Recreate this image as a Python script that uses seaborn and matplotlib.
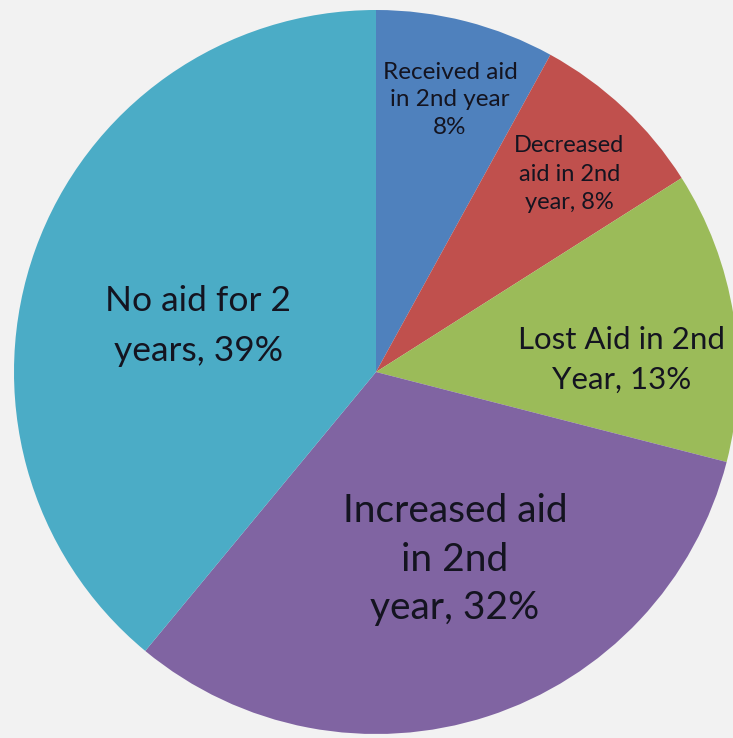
import numpy as np
import matplotlib
matplotlib.use("Agg")
import matplotlib.pyplot as plt
import seaborn as sns

# ---- data ----
categories = ["Received aid in 2nd year", "Decreased aid in 2nd year",
              "Lost Aid in 2nd Year", "Increased aid in 2nd year",
              "No aid for 2 years"]
percents = [8, 8, 13, 32, 39]
label_texts = ["Received aid\nin 2nd year\n8%",
               "Decreased\naid in 2nd\nyear, 8%",
               "Lost Aid in 2nd\nYear, 13%",
               "Increased aid\nin 2nd\nyear, 32%",
               "No aid for 2\nyears, 39%"]

# ---- style ----
colors = sns.color_palette(["#4F81BD", "#C0504D", "#9BBB59", "#8064A2", "#4BACC6"])
label_radius = [0.779, 0.764, 0.680, 0.563, 0.507]
label_angle_shift = [-0.8, -1.1, -6.1, 4.8, 5.3]
label_sizes = [17.5, 17, 22.5, 28, 25.5]
label_linespacing = [1.39, 1.43, 1.52, 1.43, 1.72]

sns.set_theme(style="white")
plt.rcParams["font.family"] = ["Lato", "DejaVu Sans"]

W, H = 733, 738
fig = plt.figure(figsize=(W / 100, H / 100), dpi=100)
fig.patch.set_facecolor("#F2F2F2")
cx, cy, R = 376, 372, 362
ax = fig.add_axes([(cx - R) / W, (H - cy - R) / H, 2 * R / W, 2 * R / H])
ax.set_facecolor("none")

wedges, _ = ax.pie(percents, colors=colors, startangle=90, counterclock=False,
                   radius=1.0, wedgeprops=dict(linewidth=0))

for w, txt, r, da, fs, ls in zip(wedges, label_texts, label_radius,
                                  label_angle_shift, label_sizes, label_linespacing):
    mid = np.deg2rad((w.theta1 + w.theta2) / 2 + da)
    ax.text(r * np.cos(mid), r * np.sin(mid), txt, ha="center", va="center",
            fontsize=fs, color="#141420", linespacing=ls, multialignment="center")

ax.set_xlim(-1, 1)
ax.set_ylim(-1, 1)
ax.set_aspect("equal")
ax.axis("off")

fig.savefig("out.png", dpi=100, facecolor=fig.get_facecolor())
